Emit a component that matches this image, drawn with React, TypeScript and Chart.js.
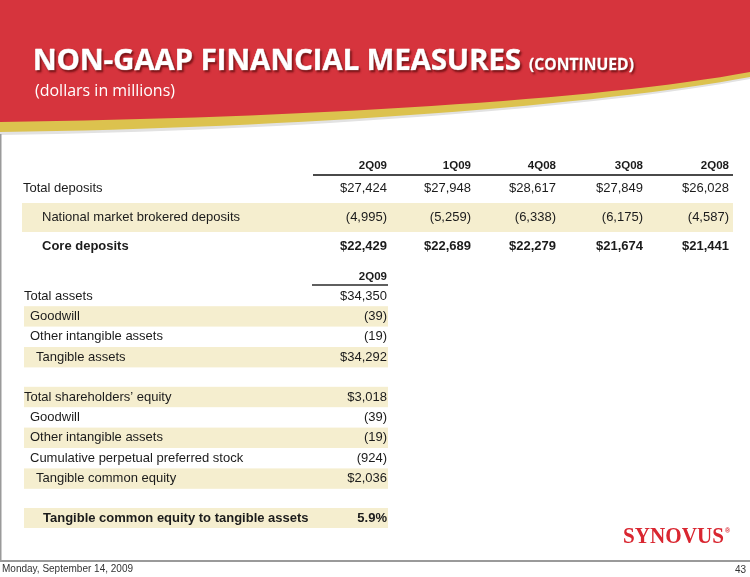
import React, { useEffect, useRef } from "react";
import { Chart, registerables } from "chart.js";

Chart.register(...registerables);

// ---- data ----
const depositPeriods = ["2Q09", "1Q09", "4Q08", "3Q08", "2Q08"];
const totalDeposits = [27424, 27948, 28617, 27849, 26028];
const brokeredDeposits = [-4995, -5259, -6338, -6175, -4587];
const coreDeposits = [22429, 22689, 22279, 21674, 21441];
const depositLabels = ["Total deposits", "National market brokered deposits", "Core deposits"];

const tangiblePeriod = "2Q09";
const assetLabels = ["Total assets", "Goodwill", "Other intangible assets", "Tangible assets"];
const assetValues = [34350, -39, -19, 34292];
const equityLabels = [
  "Total shareholders\u2019 equity",
  "Goodwill",
  "Other intangible assets",
  "Cumulative perpetual preferred stock",
  "Tangible common equity",
];
const equityValues = [3018, -39, -19, -924, 2036];
const ratioLabel = "Tangible common equity to tangible assets";
const ratioValue = 5.9;

const titleText = "NON-GAAP FINANCIAL MEASURES";
const titleSuffix = "(CONTINUED)";
const subtitleText = "(dollars in millions)";
const footerDate = "Monday, September 14, 2009";
const pageNumber = "43";
const logoText = "SYNOVUS";

function fmt(v: number, dollar: boolean): string {
  const s = Math.abs(v).toLocaleString("en-US");
  if (v < 0) return "(" + s + ")";
  return (dollar ? "$" : "") + s;
}

const SANS = "'Liberation Sans', Arial, sans-serif";
const TEXT = "#1b1b1b";
const BAND = "#F5EECF";

function fitText(ctx: CanvasRenderingContext2D, text: string, x: number, y: number, w: number, stroke = 0) {
  const m = ctx.measureText(text).width;
  ctx.save();
  ctx.translate(x, y);
  ctx.scale(w / m, 1);
  ctx.textAlign = "left";
  if (stroke > 0) {
    ctx.lineWidth = stroke;
    ctx.lineJoin = "round";
    ctx.strokeStyle = ctx.fillStyle as string;
    ctx.strokeText(text, 0, 0);
  }
  ctx.fillText(text, 0, 0);
  ctx.restore();
}

const slidePlugin = {
  id: "slide",
  afterDraw(chart: any) {
    const ctx: CanvasRenderingContext2D = chart.ctx;
    const W = chart.width;
    ctx.save();
    ctx.fillStyle = "#ffffff";
    ctx.fillRect(0, 0, W, chart.height);

    // soft shadow under yellow
    ctx.beginPath();
    ctx.moveTo(0, 0);
    ctx.lineTo(0, 135);
    ctx.bezierCurveTo(300, 131, 600, 107, 750, 79);
    ctx.lineTo(750, 0);
    ctx.closePath();
    ctx.fillStyle = "#e2e2e2";
    ctx.fill();
    // yellow band
    ctx.beginPath();
    ctx.moveTo(0, 0);
    ctx.lineTo(0, 132);
    ctx.bezierCurveTo(300, 128, 600, 105, 750, 77);
    ctx.lineTo(750, 0);
    ctx.closePath();
    ctx.fillStyle = "#DCC24E";
    ctx.fill();
    // red header
    ctx.beginPath();
    ctx.moveTo(0, 0);
    ctx.lineTo(0, 122);
    ctx.bezierCurveTo(300, 118, 600, 100, 750, 72);
    ctx.lineTo(750, 0);
    ctx.closePath();
    ctx.fillStyle = "#D6343D";
    ctx.fill();

    // title
    ctx.textBaseline = "alphabetic";
    ctx.fillStyle = "#ffffff";
    ctx.shadowColor = "rgba(70,0,0,0.6)";
    ctx.shadowOffsetX = 1.5;
    ctx.shadowOffsetY = 1.5;
    ctx.shadowBlur = 2;
    ctx.font = "bold 28px 'Open Sans', sans-serif";
    fitText(ctx, titleText, 33, 70, 488, 0.6);
    ctx.font = "bold 16px 'Open Sans', sans-serif";
    fitText(ctx, titleSuffix, 529, 70, 105, 0.3);
    ctx.shadowColor = "rgba(0,0,0,0)";
    ctx.font = "16px 'Open Sans', sans-serif";
    fitText(ctx, subtitleText, 35, 96, 140);

    // left border & footer line
    ctx.strokeStyle = "#9a9a9a";
    ctx.lineWidth = 1.5;
    ctx.beginPath();
    ctx.moveTo(0.75, 134);
    ctx.lineTo(0.75, 561);
    ctx.stroke();
    ctx.lineWidth = 2;
    ctx.beginPath();
    ctx.moveTo(0, 561);
    ctx.lineTo(750, 561);
    ctx.stroke();

    // ---- deposits table ----
    const colRight = [387, 471, 556, 643, 729];
    ctx.textBaseline = "middle";
    ctx.fillStyle = TEXT;
    ctx.font = "bold 11.5px " + SANS;
    ctx.textAlign = "right";
    depositPeriods.forEach((p, i) => ctx.fillText(p, colRight[i], 166));
    ctx.strokeStyle = "#4a4a4a";
    ctx.lineWidth = 2;
    ctx.beginPath();
    ctx.moveTo(313, 175);
    ctx.lineTo(733, 175);
    ctx.stroke();

    const depRows = [
      { y: 188, x: 23, vals: totalDeposits, bold: false, band: false },
      { y: 217.5, x: 42, vals: brokeredDeposits, bold: false, band: true },
      { y: 246.5, x: 42, vals: coreDeposits, bold: true, band: false },
    ];
    depRows.forEach((r, ri) => {
      if (r.band) {
        ctx.fillStyle = BAND;
        ctx.fillRect(22, r.y - 14.5, 711, 29);
      }
      ctx.fillStyle = TEXT;
      ctx.font = (r.bold ? "bold " : "") + "13px " + SANS;
      ctx.textAlign = "left";
      ctx.fillText(depositLabels[ri], r.x, r.y);
      ctx.textAlign = "right";
      r.vals.forEach((v, i) => ctx.fillText(fmt(v, true), colRight[i], r.y));
    });

    // ---- tangible table ----
    const right2 = 387;
    ctx.fillStyle = TEXT;
    ctx.font = "bold 11.5px " + SANS;
    ctx.textAlign = "right";
    ctx.fillText(tangiblePeriod, right2, 277);
    ctx.strokeStyle = "#2a2a2a";
    ctx.lineWidth = 1.5;
    ctx.beginPath();
    ctx.moveTo(312, 285);
    ctx.lineTo(388, 285);
    ctx.stroke();

    const pitch = 20.4;
    const assetX = [24, 30, 30, 36];
    const assetBand = [false, true, false, true];
    assetLabels.forEach((lab, i) => {
      const y = 296 + i * pitch;
      if (assetBand[i]) {
        ctx.fillStyle = BAND;
        ctx.fillRect(24, y - 10.2, 364, 20.4);
      }
      ctx.fillStyle = TEXT;
      ctx.font = "13px " + SANS;
      ctx.textAlign = "left";
      ctx.fillText(lab, assetX[i], y);
      ctx.textAlign = "right";
      ctx.fillText(fmt(assetValues[i], i === 0 || i === 3), right2, y);
    });

    const equityX = [24, 30, 30, 30, 36];
    const equityBand = [true, false, true, false, true];
    equityLabels.forEach((lab, i) => {
      const y = 397 + i * pitch;
      if (equityBand[i]) {
        ctx.fillStyle = BAND;
        ctx.fillRect(24, y - 10.2, 364, 20.4);
      }
      ctx.fillStyle = TEXT;
      ctx.font = "13px " + SANS;
      ctx.textAlign = "left";
      ctx.fillText(lab, equityX[i], y);
      ctx.textAlign = "right";
      ctx.fillText(fmt(equityValues[i], i === 0 || i === 4), right2, y);
    });

    const ry = 518;
    ctx.fillStyle = BAND;
    ctx.fillRect(24, ry - 10, 364, 20);
    ctx.fillStyle = TEXT;
    ctx.font = "bold 13px " + SANS;
    ctx.textAlign = "left";
    ctx.fillText(ratioLabel, 43, ry);
    ctx.textAlign = "right";
    ctx.fillText(ratioValue.toFixed(1) + "%", right2, ry);

    // ---- logo ----
    ctx.fillStyle = "#D92630";
    ctx.textBaseline = "alphabetic";
    ctx.font = "bold 23px 'Liberation Serif', 'DejaVu Serif', serif";
    fitText(ctx, logoText, 623, 543, 101);
    ctx.font = "bold 7px " + SANS;
    ctx.textAlign = "left";
    ctx.fillText("\u00AE", 725, 533);

    // ---- footer ----
    ctx.fillStyle = "#333333";
    ctx.font = "10px " + SANS;
    ctx.textBaseline = "middle";
    ctx.textAlign = "left";
    ctx.fillText(footerDate, 2, 569);
    ctx.textAlign = "right";
    ctx.fillText(pageNumber, 746, 570);
    ctx.restore();
  },
};

export default function App() {
  const ref = useRef<HTMLCanvasElement | null>(null);
  useEffect(() => {
    if (!ref.current) return;
    const chart = new Chart(ref.current, {
      type: "bar",
      data: { labels: [], datasets: [] },
      options: {
        animation: false,
        responsive: false,
        devicePixelRatio: 1,
        events: [],
        plugins: { legend: { display: false }, tooltip: { enabled: false } },
        scales: { x: { display: false }, y: { display: false } },
      },
      plugins: [slidePlugin],
    });
    return () => chart.destroy();
  }, []);
  return (
    <div style={{ position: "fixed", left: 0, top: 0, width: 750, height: 577, background: "#fff" }}>
      <canvas ref={ref} width={750} height={577} style={{ display: "block" }} />
    </div>
  );
}
